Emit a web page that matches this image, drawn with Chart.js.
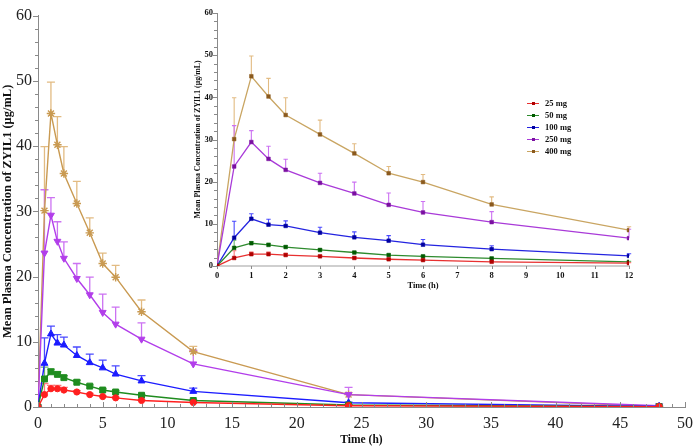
<!DOCTYPE html>
<html>
<head>
<meta charset="UTF-8">
<title>ZYIL1 Mean Plasma Concentration</title>
<script src="https://cdn.jsdelivr.net/npm/chart.js"></script>
<style>
    body { margin: 0; background: #fff; }
    #wrap { position: relative; width: 700px; height: 446px; }
    #mainChart { position: absolute; left: 0; top: 0; }
    #insetChart { position: absolute; left: 185px; top: 0; }
    #legend { position: absolute; left: 527px; top: 97px; font: bold 8.5px "Liberation Serif", serif; color: #111; }
    #legend div { height: 12.1px; line-height: 12.1px; white-space: nowrap; }
    #legend span.mk { display: inline-block; position: relative; width: 12px; height: 12px; vertical-align: top; margin-right: 6px; }
    #legend span.mk i { position: absolute; left: 0; top: 5.5px; width: 12px; height: 1px; }
    #legend span.mk b { position: absolute; left: 4.5px; top: 4.5px; width: 3px; height: 3px; }
</style>
</head>
<body>
<div id="wrap">
    <canvas id="mainChart" width="700" height="446"></canvas>
    <canvas id="insetChart" width="470" height="300"></canvas>
    <div id="legend"></div>
</div>

<script>
    // Время отбора проб (ч)
    const times = [0, 0.5, 1, 1.5, 2, 3, 4, 5, 6, 8, 12, 24, 48];

    // Средние концентрации (мкг/мл) и верхние планки ошибок (SD)
    const mg25 = [0, 1.9, 2.8, 2.8, 2.6, 2.3, 1.9, 1.6, 1.4, 1.0, 0.7, 0.2, 0.05];
    const mg25Err = [0, 1.7, 0.5, 0.5, 0.4, 0.2, 0.2, 0.15, 0.1, 0.1, 0.1, 0.05, 0];
    const mg50 = [0, 4.3, 5.4, 5.0, 4.5, 3.8, 3.2, 2.6, 2.3, 1.8, 1.0, 0.3, 0.05];
    const mg50Err = [0, 1.8, 0.4, 0.4, 0.3, 0.3, 0.2, 0.2, 0.2, 0.15, 0.1, 0.05, 0];
    const mg100 = [0, 6.7, 11.2, 9.8, 9.5, 7.9, 6.8, 6.0, 5.05, 4.0, 2.4, 0.65, 0.1];
    const mg100Err = [0, 3.9, 1.2, 1.3, 1.2, 1.3, 1.3, 1.2, 1.25, 0.8, 0.5, 0.1, 0];
    const mg250 = [0, 23.6, 29.4, 25.4, 22.8, 19.7, 17.2, 14.5, 12.7, 10.4, 6.6, 1.9, 0.2];
    const mg250Err = [0, 9.7, 2.7, 3.0, 2.5, 2.3, 2.7, 2.8, 2.6, 2.5, 2.1, 1.1, 0.05];
    const mg400 = [0, 30.1, 45.0, 40.2, 35.8, 31.2, 26.7, 22.0, 19.9, 14.6, 8.5, 1.9, 0.1];
    const mg400Err = [0, 9.8, 4.8, 4.3, 4.1, 3.4, 2.3, 1.6, 1.8, 1.8, 0.8, 0.3, 0];

    const doseLabels = ['25 mg', '50 mg', '100 mg', '250 mg', '400 mg'];
    const doseValues = [mg25, mg50, mg100, mg250, mg400];
    const doseErrors = [mg25Err, mg50Err, mg100Err, mg250Err, mg400Err];

    const mainYTicks = [0, 10, 20, 30, 40, 50, 60];
    const mainXTicks = [0, 5, 10, 15, 20, 25, 30, 35, 40, 45, 50];
    const insetXMax = 12;

    // Стили
    const lineColors = ['#ff1f1f', '#1f8c1f', '#1c1cff', '#b23eea', '#c99a52'];
    const errColors = ['#ff7a7a', '#6cb86c', '#4a4aff', '#cc72f2', '#e2bb82'];
    const insetLine = ['#e83030', '#2e8b2e', '#2424e0', '#a93ad8', '#c9a562'];
    const insetMarker = ['#b00000', '#005a00', '#0000a0', '#7a10a0', '#8b5a1e'];
    const mainStyles = ['circle', 'rect', 'triangle', 'triangle', 'star'];
    const mainRadius = [3.1, 4.2, 4.0, 4.0, 4.2];
    const mainRotation = [0, 0, 0, 180, 0];

    const serif = '"Liberation Serif", "Times New Roman", serif';

    // Планки ошибок (только вверх), рисуются через шкалы графика
    const errorBars = {
        id: 'errorBars',
        beforeDatasetsDraw(chart, args, opts) {
            const ctx = chart.ctx, xs = chart.scales.x, ys = chart.scales.y, a = chart.chartArea;
            ctx.save();
            ctx.beginPath();
            ctx.rect(a.left - 10, a.top - 2, a.right - a.left + 20, a.bottom - a.top + 4);
            ctx.clip();
            ctx.lineWidth = opts.width;
            chart.data.datasets.slice().reverse().forEach(ds => {
                if (!ds.errors) return;
                ctx.strokeStyle = ds.errorColor;
                ds.data.forEach((p, j) => {
                    const e = ds.errors[j];
                    if (!e) return;
                    const px = xs.getPixelForValue(p.x);
                    const py = ys.getPixelForValue(p.y);
                    const pt = ys.getPixelForValue(p.y + e);
                    ctx.beginPath();
                    ctx.moveTo(px, py);
                    ctx.lineTo(px, pt);
                    ctx.moveTo(px - opts.cap, pt);
                    ctx.lineTo(px + opts.cap, pt);
                    ctx.stroke();
                });
            });
            ctx.restore();
        }
    };

    // Мелкие и крупные засечки на осях
    const axisTicks = {
        id: 'axisTicks',
        afterDraw(chart, args, opts) {
            const ctx = chart.ctx;
            ctx.save();
            ctx.strokeStyle = opts.color;
            ctx.lineWidth = 1;
            Object.keys(opts.axes).forEach(id => {
                const s = chart.scales[id], o = opts.axes[id];
                for (let v = s.min; v <= s.max + 1e-9; v += o.step) {
                    const isMajor = Math.abs(v / o.major - Math.round(v / o.major)) < 1e-6;
                    const len = isMajor ? o.majorLen : o.minorLen;
                    const sign = o.dir === 'out' ? 1 : -1;
                    ctx.beginPath();
                    if (id === 'x') {
                        const px = Math.round(s.getPixelForValue(v)) + 0.5;
                        ctx.moveTo(px, s.top);
                        ctx.lineTo(px, s.top + sign * len);
                    } else {
                        const py = Math.round(s.getPixelForValue(v)) + 0.5;
                        ctx.moveTo(s.right, py);
                        ctx.lineTo(s.right - sign * len, py);
                    }
                    ctx.stroke();
                }
            });
            ctx.restore();
        }
    };

    function points(values, maxT) {
        const out = [];
        times.forEach((t, i) => { if (t <= maxT) out.push({ x: t, y: values[i] }); });
        return out;
    }

    // Основной график (0–48 ч)
    const mainDatasets = doseLabels.map((label, i) => ({
        label: label,
        data: points(doseValues[i], 48),
        errors: doseErrors[i],
        errorColor: errColors[i],
        borderColor: lineColors[i],
        backgroundColor: lineColors[i],
        borderWidth: 1.4,
        pointStyle: mainStyles[i],
        pointRadius: mainRadius[i],
        pointRotation: mainRotation[i],
        pointBorderWidth: i === 4 ? 1.4 : 1,
        pointBorderColor: lineColors[i],
        pointBackgroundColor: lineColors[i],
        tension: 0
    }));

    new Chart(document.getElementById('mainChart').getContext('2d'), {
        type: 'line',
        data: { datasets: mainDatasets },
        plugins: [errorBars, axisTicks],
        options: {
            responsive: false,
            animation: false,
            layout: { padding: { top: 6, right: 10, left: 0, bottom: 0 } },
            plugins: {
                legend: { display: false },
                tooltip: { enabled: false },
                errorBars: { width: 1.3, cap: 4 },
                axisTicks: {
                    color: '#8a8a8a',
                    axes: {
                        x: { step: 1, major: 5, minorLen: 3, majorLen: 5, dir: 'in' },
                        y: { step: 2, major: 10, minorLen: 3, majorLen: 5, dir: 'out' }
                    }
                }
            },
            scales: {
                x: {
                    type: 'linear', min: 0, max: 50,
                    afterFit: s => { s.height = 39; },
                    afterBuildTicks: s => { s.ticks = mainXTicks.map(v => ({ value: v })); },
                    grid: { display: false, drawTicks: false },
                    border: { display: true, color: '#8a8a8a', width: 1 },
                    ticks: { color: '#222', padding: 7, font: { family: serif, size: 16 } },
                    title: { display: true, text: 'Time (h)', color: '#111', padding: { top: 0, bottom: 0 },
                             font: { family: serif, size: 11.5, weight: 'bold', lineHeight: 1 } }
                },
                y: {
                    min: 0, max: 60,
                    afterFit: s => { s.width = 38; },
                    afterBuildTicks: s => { s.ticks = mainYTicks.map(v => ({ value: v })); },
                    grid: { display: false, drawTicks: false },
                    border: { display: true, color: '#8a8a8a', width: 1 },
                    ticks: { color: '#222', padding: 6, font: { family: serif, size: 16 } },
                    title: { display: true, text: 'Mean Plasma Concentration of ZYIL1 (\u03bcg/mL)', color: '#111',
                             padding: { top: 2, bottom: 0 },
                             font: { family: serif, size: 12.5, weight: 'bold', lineHeight: 1 } }
                }
            }
        }
    });

    // Вставка (0–12 ч)
    const insetDatasets = doseLabels.map((label, i) => ({
        label: label,
        data: points(doseValues[i], insetXMax),
        errors: doseErrors[i],
        errorColor: errColors[i],
        borderColor: insetLine[i],
        backgroundColor: insetMarker[i],
        borderWidth: 1.3,
        pointStyle: 'rect',
        pointRadius: 2.6,
        pointBorderWidth: 0.5,
        pointBorderColor: insetMarker[i],
        pointBackgroundColor: insetMarker[i],
        tension: 0
    }));

    const insetXTicks = [];
    for (let t = 0; t <= insetXMax; t++) insetXTicks.push(t);

    new Chart(document.getElementById('insetChart').getContext('2d'), {
        type: 'line',
        data: { datasets: insetDatasets },
        plugins: [errorBars, axisTicks],
        options: {
            responsive: false,
            animation: false,
            layout: { padding: { top: 13, right: 26, left: 0, bottom: 0 } },
            plugins: {
                legend: { display: false },
                tooltip: { enabled: false },
                errorBars: { width: 1.1, cap: 2.2 },
                axisTicks: {
                    color: '#8a8a8a',
                    axes: {
                        x: { step: 1, major: 1, minorLen: 3, majorLen: 3, dir: 'out' },
                        y: { step: 2, major: 10, minorLen: 3, majorLen: 4, dir: 'out' }
                    }
                }
            },
            scales: {
                x: {
                    type: 'linear', min: 0, max: insetXMax,
                    afterFit: s => { s.height = 34; },
                    afterBuildTicks: s => { s.ticks = insetXTicks.map(v => ({ value: v })); },
                    grid: { display: false, drawTicks: false },
                    border: { display: true, color: '#cfcfcf', width: 2 },
                    ticks: { color: '#111', padding: 5, autoSkip: false, maxRotation: 0,
                             font: { family: serif, size: 8.5, weight: 'bold' } },
                    title: { display: true, text: 'Time (h)', color: '#111', padding: { top: 0, bottom: 10 },
                             font: { family: serif, size: 8.5, weight: 'bold', lineHeight: 1 } }
                },
                y: {
                    min: 0, max: 60,
                    afterFit: s => { s.width = 32; },
                    afterBuildTicks: s => { s.ticks = mainYTicks.map(v => ({ value: v })); },
                    grid: { display: false, drawTicks: false },
                    border: { display: true, color: '#8a8a8a', width: 1 },
                    ticks: { color: '#111', padding: 4, font: { family: serif, size: 8.5, weight: 'bold' } },
                    title: { display: true, text: 'Mean Plasma Concentration of ZYIL1 (\u03bcg/mL)', color: '#111',
                             padding: { top: 9.5, bottom: 0 },
                             font: { family: serif, size: 7.8, weight: 'bold', lineHeight: 1 } }
                }
            }
        }
    });

    // Легенда
    const legendEl = document.getElementById('legend');
    doseLabels.forEach((label, i) => {
        const row = document.createElement('div');
        row.innerHTML = '<span class="mk"><i style="background:' + insetLine[i] + '"></i><b style="background:' +
            insetMarker[i] + '"></b></span>' + label;
        legendEl.appendChild(row);
    });
</script>
</body>
</html>
